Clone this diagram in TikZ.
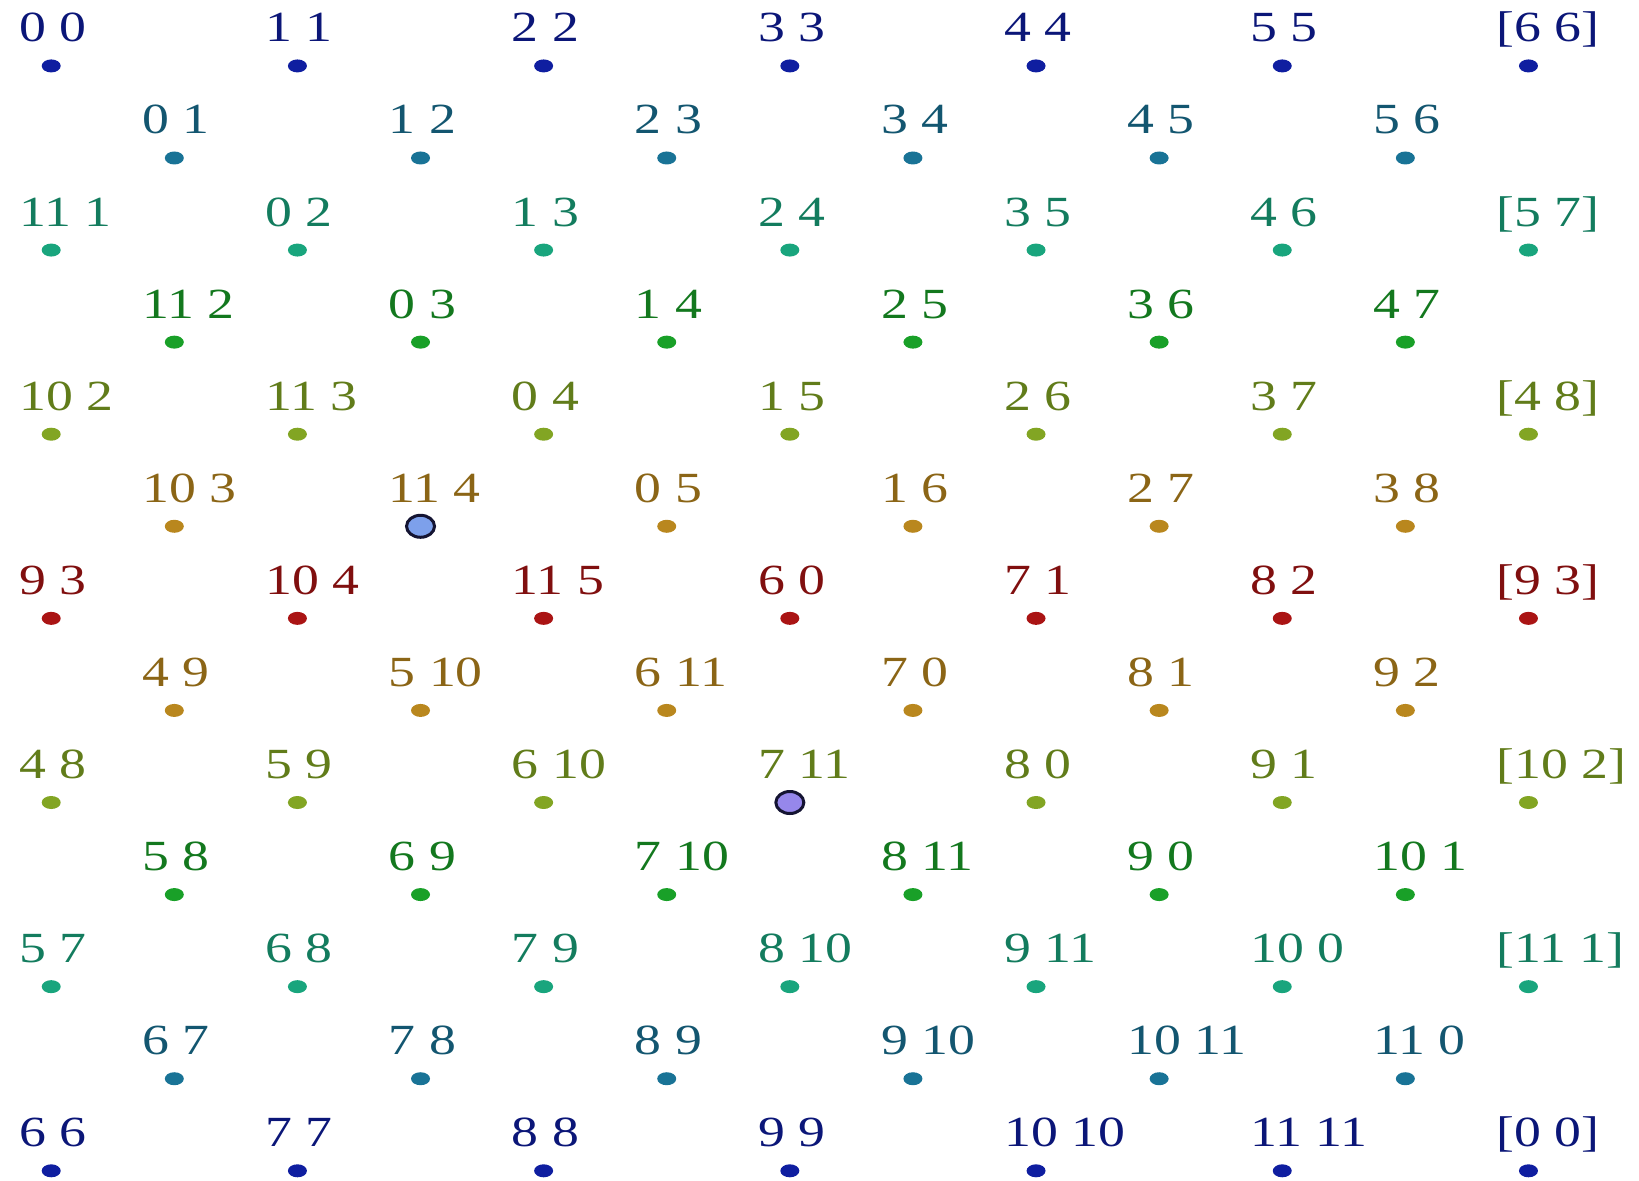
\documentclass[tikz,border=0pt]{standalone}
\usepackage{fontspec}
\setmainfont{Liberation Serif}
\usetikzlibrary{shapes.geometric}

\definecolor{rowA}{RGB}{15,30,160}
\definecolor{rowB}{RGB}{25,115,150}
\definecolor{rowC}{RGB}{25,165,125}
\definecolor{rowD}{RGB}{25,160,40}
\definecolor{rowE}{RGB}{130,165,35}
\definecolor{rowF}{RGB}{185,135,30}
\definecolor{rowG}{RGB}{170,20,20}
\definecolor{ringdark}{RGB}{20,20,50}
\definecolor{markblue}{RGB}{125,160,235}
\definecolor{marklilac}{RGB}{150,135,235}

\tikzset{
    pt/.style={ellipse, inner sep=0pt, minimum width=19pt, minimum height=13pt, fill=#1},
    lbl/.style={anchor=base west, inner sep=0pt, xscale=1.25, text=#1!75!black,
        font=\fontsize{43}{50}\selectfont},
    hilite/.style={ellipse, inner sep=0pt, minimum width=28pt, minimum height=22pt,
        draw=ringdark, line width=3pt, fill=#1}
}

\begin{document}
\begin{tikzpicture}[x=123.1pt, y=-92.07pt]

    \useasboundingbox (-0.416,-0.716) rectangle (12.898,12.101);

    % even rows
    \foreach \r/\cl/\etiquetas in {
        0/rowA/{0 0,1 1,2 2,3 3,4 4,5 5,[6 6]},
        2/rowC/{11 1,0 2,1 3,2 4,3 5,4 6,[5 7]},
        4/rowE/{10 2,11 3,0 4,1 5,2 6,3 7,[4 8]},
        6/rowG/{9 3,10 4,11 5,6 0,7 1,8 2,[9 3]},
        8/rowE/{4 8,5 9,6 10,7 11,8 0,9 1,[10 2]},
        10/rowC/{5 7,6 8,7 9,8 10,9 11,10 0,[11 1]},
        12/rowA/{6 6,7 7,8 8,9 9,10 10,11 11,[0 0]}%
    } {
        \foreach \etiqueta [count=\c from 0] in \etiquetas {
            \pgfmathtruncatemacro{\x}{2*\c}
            \node[pt=\cl] (p\x-\r) at (\x,\r) {};
            \node[lbl=\cl] (l\x-\r) at ([shift={(-32pt,24pt)}]p\x-\r.center) {\etiqueta};
        }
    }

    % odd rows
    \foreach \r/\cl/\etiquetas in {
        1/rowB/{0 1,1 2,2 3,3 4,4 5,5 6},
        3/rowD/{11 2,0 3,1 4,2 5,3 6,4 7},
        5/rowF/{10 3,11 4,0 5,1 6,2 7,3 8},
        7/rowF/{4 9,5 10,6 11,7 0,8 1,9 2},
        9/rowD/{5 8,6 9,7 10,8 11,9 0,10 1},
        11/rowB/{6 7,7 8,8 9,9 10,10 11,11 0}%
    } {
        \foreach \etiqueta [count=\c from 0] in \etiquetas {
            \pgfmathtruncatemacro{\x}{2*\c+1}
            \node[pt=\cl] (p\x-\r) at (\x,\r) {};
            \node[lbl=\cl] (l\x-\r) at ([shift={(-32pt,24pt)}]p\x-\r.center) {\etiqueta};
        }
    }

    % marked points
    \node[hilite=markblue] (m1) at (p3-5) {};
    \node[hilite=marklilac] (m2) at (p6-8) {};

\end{tikzpicture}
\end{document}
